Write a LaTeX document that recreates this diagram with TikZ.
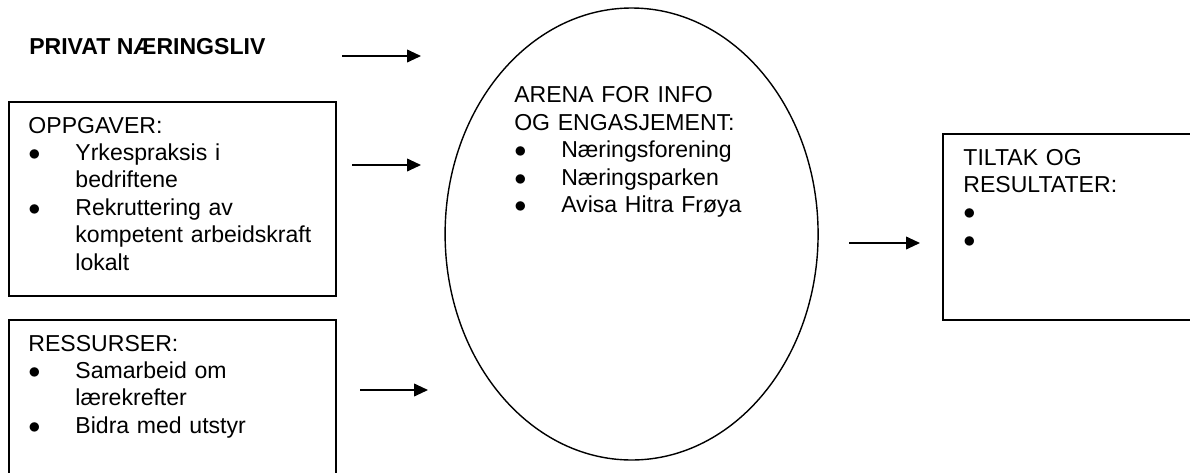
\documentclass[tikz,border=0pt]{standalone}
\usepackage{fontspec}
\setmainfont{Liberation Sans}
\usetikzlibrary{shapes.geometric,arrows.meta}
\newcommand{\punkt}[1]{\par\hangindent=1.175cm\hangafter=1\makebox[1.175cm][l]{$\bullet$}#1\par}

\begin{document}
\begin{tikzpicture}[
		boks/.style={draw, line width=1.2pt, inner sep=0pt},
		tekst/.style={anchor=base west, inner sep=0pt, align=left, font=\fontsize{16.4}{19.5}\selectfont},
		pil/.style={line width=1pt, -{Triangle[length=0.35cm,width=0.32cm]}}
	]
	\useasboundingbox (0,0) rectangle (29.75,-11.8);
	
	% Heading
	\node[tekst, font=\fontsize{16.4}{19.5}\selectfont\bfseries] (privat) at (0.725,-1.35) {PRIVAT NÆRINGSLIV};
	
	% Left boxes
	\node[boks, minimum width=8.175cm, minimum height=4.85cm] (oppgaver) at (4.3125,-4.975) {};
	\node[tekst, text width=7.5cm] (oppgtekst) at ([xshift=0.5cm,yshift=-0.8cm]oppgaver.north west) {OPPGAVER:
		\punkt{Yrkespraksis i\newline bedriftene}
		\punkt{Rekruttering av\newline kompetent arbeidskraft\newline lokalt}};
	
	\node[boks, minimum width=8.175cm, minimum height=4.25cm] (ressurser) at (4.3125,-10.125) {};
	\node[tekst, text width=7.5cm] (resstekst) at ([xshift=0.5cm,yshift=-0.8cm]ressurser.north west) {RESSURSER:
		\punkt{Samarbeid om\newline lærekrefter}
		\punkt{Bidra med utstyr}};
	
	% Arena
	\node[draw, ellipse, line width=1pt, minimum width=9.325cm, minimum height=11.3cm, inner sep=0pt] (arena) at (15.79,-5.85) {};
	\node[tekst, text width=7cm] (arenatekst) at ([xshift=-2.94cm,yshift=3.28cm]arena.center) {ARENA FOR INFO\\OG ENGASJEMENT:
		\punkt{Næringsforening}
		\punkt{Næringsparken}
		\punkt{Avisa Hitra Frøya}};
	
	% Result box
	\node[boks, minimum width=6.675cm, minimum height=4.65cm] (tiltak) at (26.9125,-5.675) {};
	\node[tekst, text width=5cm] (tiltaktekst) at ([xshift=0.525cm,yshift=-0.8cm]tiltak.north west) {TILTAK OG\\RESULTATER:
		\punkt{}
		\punkt{}};
	
	% Arrows
	\foreach \navn/\xa/\xb/\y in {a/8.55/10.525/-1.4, b/8.8/10.525/-4.125, c/9.0/10.7/-9.75, d/21.225/23.0/-6.075} {
		\coordinate (\navn1) at (\xa,\y);
		\coordinate (\navn2) at (\xb,\y);
		\draw[pil] (\navn1) -- (\navn2);
	}
\end{tikzpicture}
\end{document}
